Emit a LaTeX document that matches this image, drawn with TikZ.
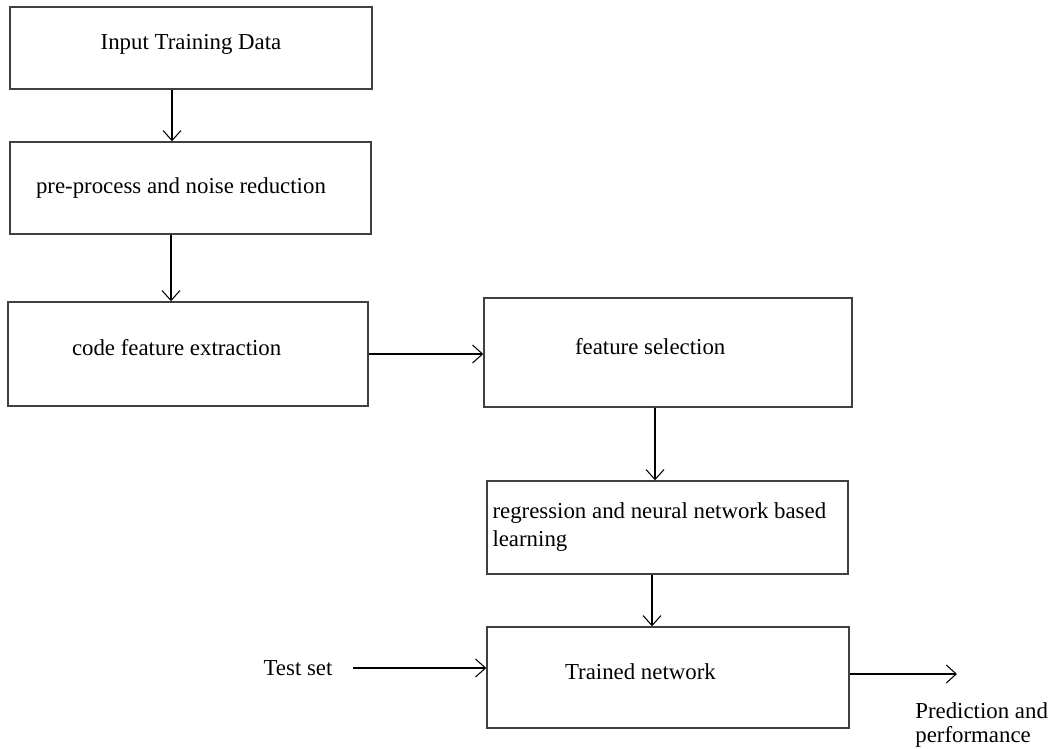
\documentclass[tikz,border=0pt]{standalone}
\usepackage{fontspec}
\setmainfont{Liberation Serif}
\usetikzlibrary{arrows.meta}

\begin{document}
\begin{tikzpicture}[font=\fontsize{13}{15.9}\selectfont,
		box/.style={draw=black!75, line width=0.8pt, align=flush left},
		up/.style={text height=0.35cm, text depth=0.29cm},
		flow/.style={line width=0.6pt, -{Straight Barb[length=2mm, width=3.6mm]}}]
		% \draw[help lines] (0,0) grid (21,-15);
		\useasboundingbox (0,0) rectangle (21.04,-14.98);

		% left column
		\node[box, up, minimum width=7.24cm, minimum height=1.64cm] (input) at (3.82,-0.96) {Input Training Data};
		\node[box, text width=6.18cm, inner xsep=0.52cm, minimum height=1.84cm] (prep) at (3.81,-3.76) {pre-process and noise reduction};
		\node[box, up, text width=4.64cm, inner xsep=1.28cm, minimum height=2.08cm] (extract) at (3.76,-7.08) {code feature extraction};

		% right column
		\node[box, up, text width=3.72cm, inner xsep=1.82cm, minimum height=2.18cm] (select) at (13.36,-7.05) {feature selection};
		\node[box, text width=7.0cm, inner xsep=0.11cm, minimum height=1.86cm] (learn) at (13.35,-10.55) {regression and neural network based\\learning};
		\node[box, up, text width=4.12cm, inner xsep=1.56cm, minimum height=2.02cm] (trained) at (13.36,-13.55) {Trained network};

		\node[inner sep=0] (test) at (5.96,-13.36) {Test set};
		\node[inner sep=0, anchor=west, align=flush left, font=\fontsize{13}{13.7}\selectfont] (pred) at (18.30,-14.50) {Prediction and\\performance};
		\coordinate (tin) at ([xshift=0.4cm]test.east);
		\coordinate (out) at (19.14,-13.48);

		\draw[flow] ([xshift=-0.38cm]input.south) -- ([xshift=-0.38cm]input.south |- prep.north);
		\draw[flow] ([xshift=-0.39cm]prep.south) -- ([xshift=-0.39cm]prep.south |- extract.north);
		\draw[flow] (extract.east) -- (extract.east -| select.west);
		\draw[flow] ([xshift=-0.26cm]select.south) -- ([xshift=-0.26cm]select.south |- learn.north);
		\draw[flow] ([xshift=-0.31cm]learn.south) -- ([xshift=-0.31cm]learn.south |- trained.north);
		\draw[flow] (tin) -- (tin -| trained.west);
		\draw[flow] (trained.east |- out) -- (out);
	\end{tikzpicture}
\end{document}
